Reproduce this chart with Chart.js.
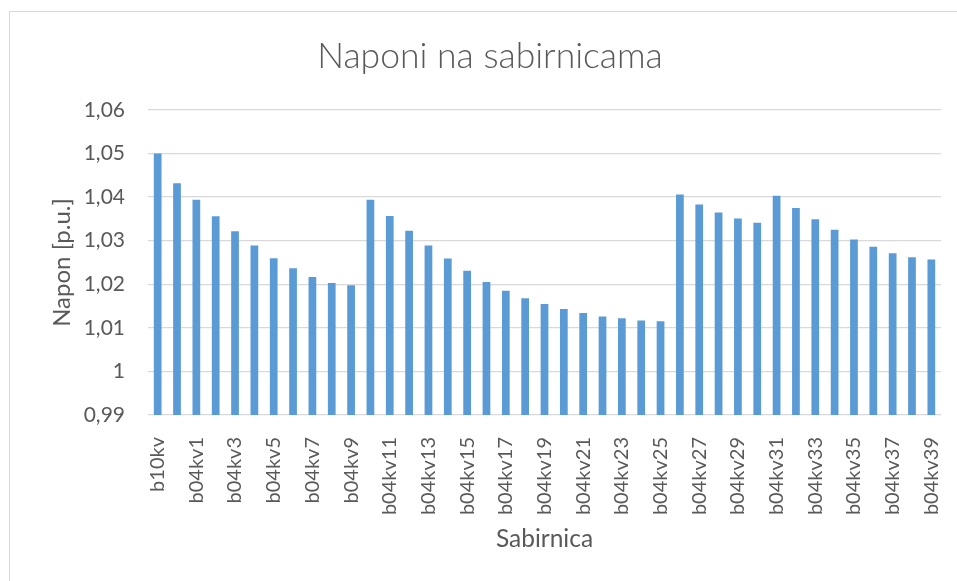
<!DOCTYPE html>
<html>
<head>
<meta charset="utf-8">
<script src="https://cdn.jsdelivr.net/npm/chart.js@4/dist/chart.umd.min.js"></script>
<style>
  html, body { margin: 0; padding: 0; background: #ffffff; overflow: hidden; }
  #wrap { position: relative; width: 957px; height: 581px; }
  #frame { position: absolute; left: 9px; top: 11px; width: 1000px; height: 1000px; border: 1px solid #d9d9d9; pointer-events: none; }
  canvas { position: absolute; left: 0; top: 0; }
</style>
</head>
<body>
<div id="wrap">
  <canvas id="c" width="957" height="581"></canvas>
  <div id="frame"></div>
</div>
<script>
const chartTitle = 'Naponi na sabirnicama';
const xAxisTitle = 'Sabirnica';
const yAxisTitle = 'Napon [p.u.]';

const categories = [
  'b10kv', 'b04kv0', 'b04kv1', 'b04kv2', 'b04kv3', 'b04kv4', 'b04kv5', 'b04kv6', 'b04kv7', 'b04kv8',
  'b04kv9', 'b04kv10', 'b04kv11', 'b04kv12', 'b04kv13', 'b04kv14', 'b04kv15', 'b04kv16', 'b04kv17', 'b04kv18',
  'b04kv19', 'b04kv20', 'b04kv21', 'b04kv22', 'b04kv23', 'b04kv24', 'b04kv25', 'b04kv26', 'b04kv27', 'b04kv28',
  'b04kv29', 'b04kv30', 'b04kv31', 'b04kv32', 'b04kv33', 'b04kv34', 'b04kv35', 'b04kv36', 'b04kv37', 'b04kv38',
  'b04kv39'
];

const voltages = [
  1.0500, 1.0432, 1.0394, 1.0356, 1.0322, 1.0289, 1.0260, 1.0237, 1.0217, 1.0203,
  1.0198, 1.0394, 1.0357, 1.0323, 1.0289, 1.0259, 1.0231, 1.0205, 1.0185, 1.0168,
  1.0155, 1.0143, 1.0134, 1.0126, 1.0122, 1.0117, 1.0115, 1.0406, 1.0383, 1.0365,
  1.0351, 1.0341, 1.0403, 1.0375, 1.0349, 1.0325, 1.0303, 1.0286, 1.0271, 1.0262,
  1.0257
];

const yMin = 0.99;
const yMax = 1.06;
const yStep = 0.01;

const textColor = '#595959';
const gridColor = '#d9d9d9';
const barColor = '#5b9bd5';
const fontFamily = 'Lato, "Open Sans", "Noto Sans", sans-serif';

new Chart(document.getElementById('c'), {
  type: 'bar',
  data: {
    labels: categories,
    datasets: [{
      data: voltages,
      backgroundColor: barColor,
      borderWidth: 0,
      barPercentage: 0.4,
      categoryPercentage: 1.0
    }]
  },
  options: {
    responsive: false,
    animation: false,
    devicePixelRatio: 1,
    layout: { padding: { left: 39, right: 16, top: 0, bottom: 0 } },
    plugins: {
      legend: { display: false },
      tooltip: { enabled: false },
      title: {
        display: true,
        text: chartTitle,
        color: textColor,
        font: { family: fontFamily, size: 35.5, weight: 300 },
        padding: { top: 35, bottom: 32.4 }
      }
    },
    scales: {
      x: {
        grid: { display: false },
        border: { display: false },
        ticks: {
          autoSkip: false,
          maxRotation: 90,
          minRotation: 90,
          color: textColor,
          padding: 14,
          font: { family: fontFamily, size: 20 },
          callback: function (value, index) {
            return index % 2 === 0 ? categories[index] : '';
          }
        },
        title: {
          display: true,
          text: xAxisTitle,
          color: textColor,
          font: { family: fontFamily, size: 24.5 },
          padding: { top: 0, bottom: 27 }
        },
        afterFit: function (scale) {
          scale.height = 166;
          scale.paddingLeft = 0;
          scale.paddingRight = 0;
        }
      },
      y: {
        min: yMin,
        max: yMax,
        grid: { color: gridColor, lineWidth: 1.3, drawTicks: false },
        border: { display: false },
        ticks: {
          stepSize: yStep,
          color: textColor,
          padding: 23,
          font: { family: fontFamily, size: 21 },
          callback: function (value) {
            return Number(value.toFixed(2)).toString().replace('.', ',');
          }
        },
        title: {
          display: true,
          text: yAxisTitle,
          color: textColor,
          font: { family: fontFamily, size: 24 },
          padding: { top: 9, bottom: 0 }
        },
        afterFit: function (scale) { scale.width = 109; }
      }
    }
  }
});
</script>
</body>
</html>
